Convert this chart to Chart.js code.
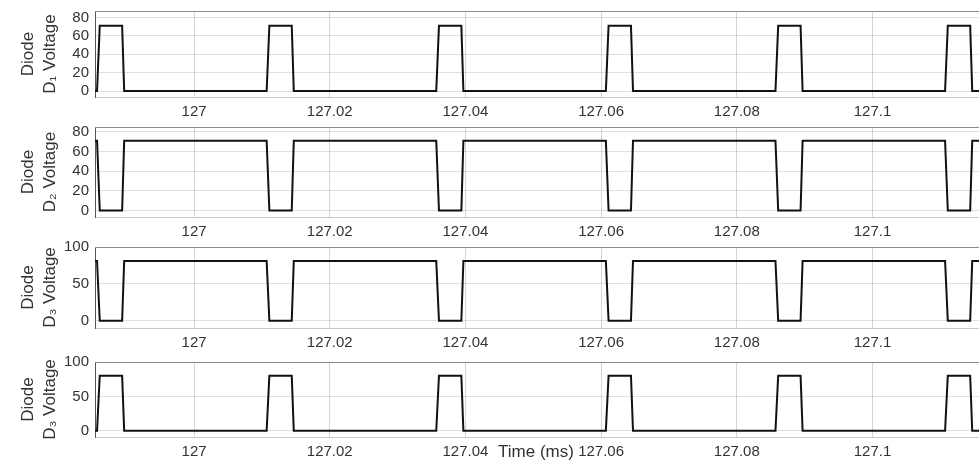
<!DOCTYPE html>
<html>
<head>
<meta charset="utf-8">
<script src="https://cdn.jsdelivr.net/npm/chart.js@4.4.1/dist/chart.umd.min.js"></script>
<style>
	html, body { margin: 0; padding: 0; background: #fff; overflow: hidden; }
	#wrap { position: relative; width: 979px; height: 465px; overflow: hidden; }
	canvas { position: absolute; left: 0; }
</style>
</head>
<body>
<div id="wrap">
	<canvas id="c1" width="979" height="127" style="top:-4px"></canvas>
	<canvas id="c2" width="979" height="131" style="top:112px"></canvas>
	<canvas id="c3" width="979" height="122" style="top:232px"></canvas>
	<canvas id="c4" width="979" height="116" style="top:347px"></canvas>
</div>
<script>
// switching instants (ms)
const timeMs = [
	126.9854,
	126.9857, 126.9861, 126.9894, 126.9897,
	127.0107, 127.0111, 127.0144, 127.0147,
	127.0357, 127.0361, 127.0394, 127.0397,
	127.0607, 127.0611, 127.0644, 127.0647,
	127.0857, 127.0861, 127.0894, 127.0897,
	127.1107, 127.1111, 127.1144, 127.1147,
	127.1157,
];

// diode voltages (V) at those instants
const diode1 = [ 0, 0, 71, 71, 0, 0, 71, 71, 0, 0, 71, 71, 0, 0, 71, 71, 0, 0, 71, 71, 0, 0, 71, 71, 0, 0 ];
const diode2 = [ 71, 71, 0, 0, 71, 71, 0, 0, 71, 71, 0, 0, 71, 71, 0, 0, 71, 71, 0, 0, 71, 71, 0, 0, 71, 71 ];
const diode3 = [ 81, 81, 0, 0, 81, 81, 0, 0, 81, 81, 0, 0, 81, 81, 0, 0, 81, 81, 0, 0, 81, 81, 0, 0, 81, 81 ];
const diode4 = [ 0, 0, 80, 80, 0, 0, 80, 80, 0, 0, 80, 80, 0, 0, 80, 80, 0, 0, 80, 80, 0, 0, 80, 80, 0, 0 ];

const xTicks = [ 127, 127.02, 127.04, 127.06, 127.08, 127.1 ];
const yTicksLow = [ 0, 20, 40, 60, 80 ];
const yTicksHigh = [ 0, 50, 100 ];

const xMin = 126.9854;
const xMax = 127.1157;

const FONT = "'Liberation Sans', Arial, Helvetica, sans-serif";
const TEXT = '#333';

// top edge of the axes box
const topBorder = {
	id: 'topBorder',
	beforeDatasetsDraw( chart ) {
		const { ctx, chartArea } = chart;
		ctx.save();
		ctx.strokeStyle = '#8a8a8a';
		ctx.lineWidth = 1;
		ctx.beginPath();
		ctx.moveTo( chartArea.left, chartArea.top + 0.5 );
		ctx.lineTo( chartArea.right, chartArea.top + 0.5 );
		ctx.stroke();
		ctx.restore();
	},
};

// "Time (ms)" sits on the tick label row of the last panel
const timeLabel = {
	id: 'timeLabel',
	afterDraw( chart ) {
		const { ctx, chartArea } = chart;
		ctx.save();
		ctx.font = '17px ' + FONT;
		ctx.fillStyle = TEXT;
		ctx.textAlign = 'center';
		ctx.textBaseline = 'middle';
		ctx.fillText( 'Time (ms)', ( chartArea.left + chartArea.right ) / 2 - 1, chartArea.bottom + 15 );
		ctx.restore();
	},
};

function panel( id, values, yMin, yMax, yTicks, label, extra ) {
	const points = timeMs.map( ( t, i ) => ( { x: t, y: values[ i ] } ) );

	const config = {
		type: 'line',
		data: {
			datasets: [ {
				data: points,
				borderColor: '#111',
				borderWidth: 2,
				pointRadius: 0,
				tension: 0,
				fill: false,
			} ],
		},
		options: {
			responsive: false,
			animation: false,
			layout: { padding: { top: 15, left: 0, right: 0, bottom: 0 } },
			plugins: {
				legend: { display: false },
				tooltip: { enabled: false },
			},
			scales: {
				x: {
					type: 'linear',
					min: xMin,
					max: xMax,
					afterBuildTicks: ( scale ) => {
						scale.ticks = xTicks.map( ( v ) => ( { value: v } ) );
					},
					afterFit: ( scale ) => {
						scale.height = 26;
					},
					ticks: {
						color: TEXT,
						font: { family: FONT, size: 15 },
						padding: 6,
						maxRotation: 0,
						autoSkip: false,
						callback: ( v ) => String( +v.toFixed( 2 ) ),
					},
					grid: {
						color: 'rgba(0,0,0,0.16)',
						drawTicks: false,
					},
					border: { color: '#c8c8c8' },
				},
				y: {
					min: yMin,
					max: yMax,
					afterBuildTicks: ( scale ) => {
						scale.ticks = yTicks.map( ( v ) => ( { value: v } ) );
					},
					afterFit: ( scale ) => {
						scale.width = 95;
					},
					ticks: {
						color: TEXT,
						font: { family: FONT, size: 15 },
						padding: 6,
						autoSkip: false,
					},
					grid: {
						color: 'rgba(0,0,0,0.12)',
						drawTicks: false,
					},
					border: { color: '#555' },
					title: {
						display: true,
						text: [ 'Diode', label ],
						color: TEXT,
						font: { family: FONT, size: 17, lineHeight: 1.3 },
						padding: { top: 17, bottom: 0 },
					},
				},
			},
		},
		plugins: extra ? [ topBorder, extra ] : [ topBorder ],
	};

	return new Chart( document.getElementById( id ), config );
}

function diodeCharts() {
	const charts = {};
	charts.d1 = panel( 'c1', diode1, -6.5, 87, yTicksLow, 'D\u2081 Voltage' );
	charts.d2 = panel( 'c2', diode2, -6.5, 85, yTicksLow, 'D\u2082 Voltage' );
	charts.d3 = panel( 'c3', diode3, -10, 100, yTicksHigh, 'D\u2083 Voltage' );
	charts.d4 = panel( 'c4', diode4, -9, 100, yTicksHigh, 'D\u2083 Voltage', timeLabel );
	return charts;
}

diodeCharts();
</script>
</body>
</html>
